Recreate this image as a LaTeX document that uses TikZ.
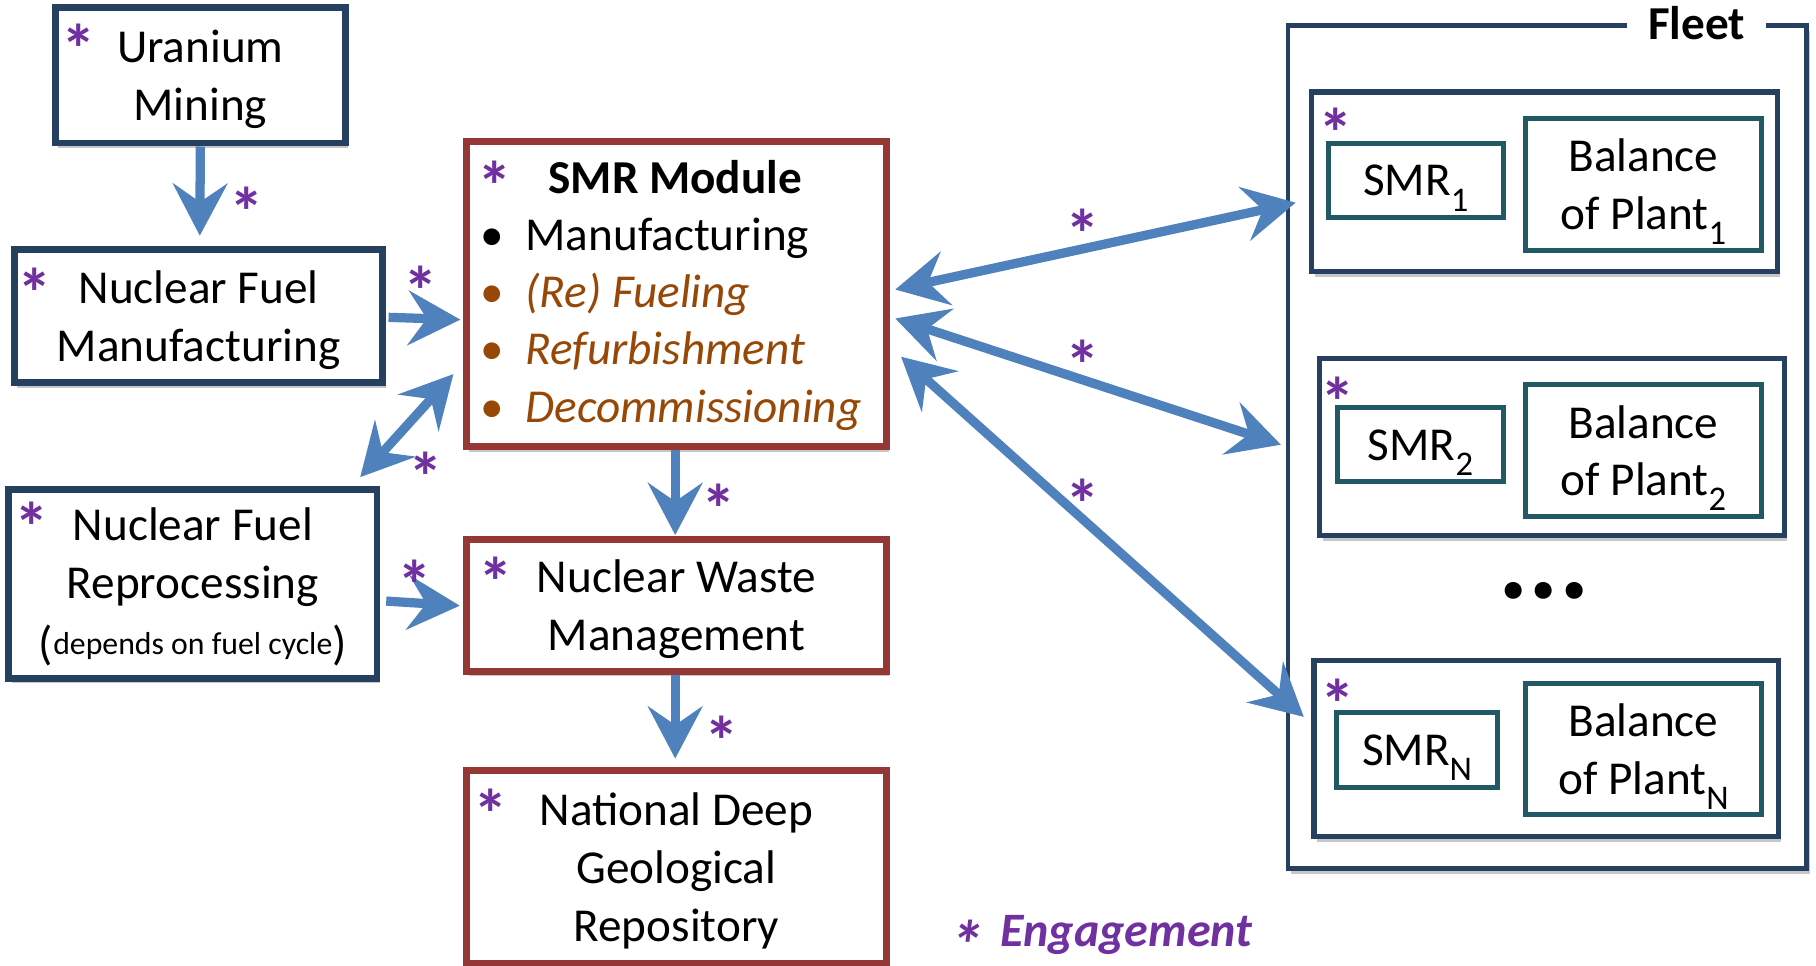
\documentclass[tikz,border=0pt]{standalone}
\usepackage{fontspec}
\setmainfont{Carlito}
\usetikzlibrary{arrows.meta,calc,shadows}
\definecolor{navy}{RGB}{38,64,96}
\definecolor{brick}{RGB}{149,55,53}
\definecolor{tealb}{RGB}{33,89,100}
\definecolor{arrblue}{RGB}{79,129,189}
\definecolor{purp}{RGB}{112,48,160}
\definecolor{rust}{RGB}{152,72,6}
\newcommand\mysub[1]{\raisebox{-0.32em}{\fontsize{8.5}{9}\selectfont #1}}
\tikzset{
  txt/.style={font=\fontsize{11.6}{14.2}\selectfont, align=center, inner sep=0pt},
  shad/.style={drop shadow={shadow xshift=0.25mm, shadow yshift=-0.45mm, opacity=0.22, fill=black}},
  navybox/.style={txt, text depth=0pt, draw=navy, line width=0.6mm, fill=white, shad},
  grpbox/.style={txt, draw=navy, line width=0.45mm, fill=white, shad},
  redbox/.style={txt, text depth=0pt, draw=brick, line width=0.6mm, fill=white, shad},
  tealbox/.style={txt, text depth=0pt, draw=tealb, line width=0.45mm, fill=white},
  ast/.style={txt, text=purp, font=\fontsize{17}{18}\selectfont\bfseries, anchor=center, yshift=-1.5mm},
  arr/.style={draw=arrblue, line width=0.8mm, -{Stealth[length=4.5mm,width=4.7mm,inset=1.6mm]}},
  darr/.style={draw=arrblue, line width=0.8mm, {Stealth[length=4.5mm,width=4.7mm,inset=1.6mm]}-{Stealth[length=4.5mm,width=4.7mm,inset=1.6mm]}},
}
\begin{document}
\begin{tikzpicture}[x=0.1mm,y=-0.1mm]
\useasboundingbox (0,0) rectangle (1568,834);

% Fleet
\node[grpbox, line width=0.4mm, minimum width=44.8mm, minimum height=72.8mm] (fleet) at (1336,386) {};
\node[txt, font=\fontsize{11.6}{14.2}\selectfont\bfseries, fill=white, inner xsep=1.8mm, inner ysep=0.6mm] (fleett) at (1465,20) {Fleet};

\node[grpbox, minimum width=40.2mm, minimum height=15.5mm] (g1) at (1333.5,157) {};
\node[tealbox, minimum width=15.1mm, minimum height=6.4mm] (smr1) at (1222.5,156) {SMR\mysub{1}};
\node[tealbox, minimum width=20.4mm, minimum height=11.4mm] (bop1) at (1419,159) {Balance\\of Plant\mysub{1}};

\node[grpbox, minimum width=40.1mm, minimum height=15.3mm] (g2) at (1340,386) {};
\node[tealbox, minimum width=14.3mm, minimum height=6.4mm] (smr2) at (1226.5,384) {SMR\mysub{2}};
\node[tealbox, minimum width=20.4mm, minimum height=11.4mm] (bop2) at (1419,389) {Balance\\of Plant\mysub{2}};

\node[txt, font=\fontsize{28}{30}\selectfont\bfseries\itshape] (dots) at (1335,510) {...};

\node[grpbox, minimum width=40.1mm, minimum height=15.2mm] (gn) at (1335,646.5) {};
\node[tealbox, minimum width=13.9mm, minimum height=6.5mm] (smrn) at (1223.5,647.5) {SMR\mysub{N}};
\node[tealbox, minimum width=20.4mm, minimum height=11.3mm] (bopn) at (1419,646.5) {Balance\\of Plant\mysub{N}};

% left chain
\node[navybox, minimum width=25mm, minimum height=11.7mm] (um) at (173,65) {Uranium\\Mining};
\node[navybox, minimum width=31.8mm, minimum height=11.5mm] (nfm) at (171.5,273) {Nuclear Fuel\\Manufacturing};
\node[navybox, minimum width=31.8mm, minimum height=16.3mm] (repro) at (166.5,504) {Nuclear Fuel\\Reprocessing\\[1pt](\raisebox{0.12em}{\fontsize{7.8}{9}\selectfont depends on fuel cycle})};

\node[redbox, minimum width=36.3mm, minimum height=26.3mm] (smr) at (584,254) {};
\node[txt, font=\fontsize{11.6}{14.2}\selectfont\bfseries, anchor=base] (smrt) at (583,167.5) {SMR Module};
\node[txt, anchor=base] (bu1) at (425,216) {•};
\node[txt, anchor=base west] (it1) at (453,216) {Manufacturing};
\node[txt, anchor=base, text=rust] (bu2) at (425,265.5) {•};
\node[txt, anchor=base west, text=rust, font=\fontsize{11.6}{14.2}\selectfont\itshape] (it2) at (453,265.5) {(Re) Fueling};
\node[txt, anchor=base, text=rust] (bu3) at (425,315) {•};
\node[txt, anchor=base west, text=rust, font=\fontsize{11.6}{14.2}\selectfont\itshape] (it3) at (453,315) {Refurbishment};
\node[txt, anchor=base, text=rust] (bu4) at (425,365) {•};
\node[txt, anchor=base west, text=rust, font=\fontsize{11.6}{14.2}\selectfont\itshape] (it4) at (453,365) {Decommissioning};

\node[redbox, minimum width=36.3mm, minimum height=11.4mm] (waste) at (584,522.5) {Nuclear Waste\\Management};
\node[redbox, minimum width=36.3mm, minimum height=16.6mm] (repo) at (584,748.5) {National Deep\\Geological\\Repository};

% arrows
\draw[arr] (um.south) -- ($(nfm.north)+(1,-9)$);
\draw[arr] ($(nfm.east)+(2,1)$) -- ($(smr.west)+(-2,22)$);
\draw[darr] ($(smr.west)+(-8,69)$) -- ($(repro.north east)+(-17.5,-7.5)$);
\draw[arr] ($(repro.east)+(5,15)$) -- ($(waste.west)+(-2.5,0.5)$);
\draw[arr] ($(smr.south)+(-1,0)$) -- ($(waste.north)+(-1,-0.5)$);
\draw[arr] ($(waste.south)+(-1,0)$) -- ($(repo.north)+(-1,-7.5)$);
\draw[darr] ($(smr.east)+(4.5,-4)$) -- ($(g1.west)+(-11.5,18)$);
\draw[darr] ($(smr.east)+(4.5,21)$) -- ($(fleet.west)+(-4,-2)$);
\draw[darr] ($(smr.east)+(9.5,54)$) -- ($(gn.west)+(-6.5,-27.5)$);

% engagement stars
\node[ast] (sum) at (68,27) {*};
\node[ast] (snfm) at (30,238) {*};
\node[ast] (ssmr) at (427,145) {*};
\node[ast] (srep) at (27,440) {*};
\node[ast] (swaste) at (428,487) {*};
\node[ast] (srepo) at (424,688) {*};
\node[ast] (sg1) at (1153,100) {*};
\node[ast] (sg2) at (1155,332) {*};
\node[ast] (sgn) at (1155,593) {*};
\node[ast] (a1) at (213,168) {*};
\node[ast] (a2) at (363,236) {*};
\node[ast] (a3) at (368,397) {*};
\node[ast] (a4) at (358,490) {*};
\node[ast] (a5) at (621,424) {*};
\node[ast] (a6) at (623,625) {*};
\node[ast] (a7) at (935,187) {*};
\node[ast] (a8) at (935,300) {*};
\node[ast] (a9) at (935,420) {*};

% legend
\node[ast, font=\fontsize{17}{18}\selectfont\bfseries\itshape] (legs) at (835,801) {*};
\node[txt, anchor=base west, text=purp, font=\fontsize{11.8}{14.2}\selectfont\bfseries\itshape] (leg) at (863,817) {Engagement};
\end{tikzpicture}
\end{document}
